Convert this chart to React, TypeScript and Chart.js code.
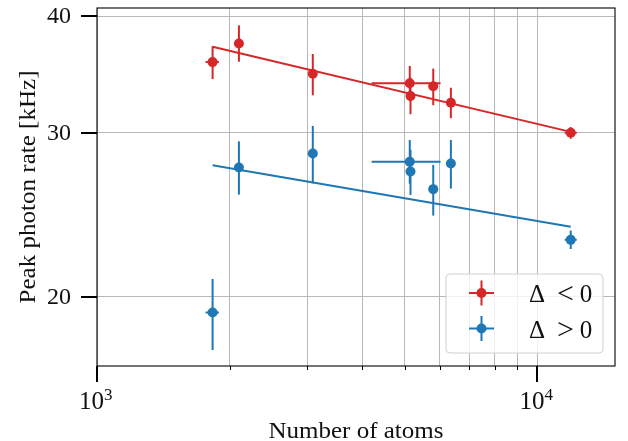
import React, { useEffect, useRef } from "react";
import { Chart, registerables } from "chart.js";
Chart.register(...registerables);

// ---- data ----
const nAtoms = [1830, 2100, 3090, 5130, 5150, 5800, 6360, 11900];
const nAtomsLow = [1764, 2100, 3090, 4203, 5150, 5800, 6360, 11533];
const nAtomsHigh = [1891, 2100, 3090, 6026, 5150, 5800, 6360, 12281];

const rateNeg = [35.7, 37.38, 34.68, 33.88, 32.84, 33.63, 32.29, 29.98];
const rateNegLow = [34.24, 35.73, 32.89, 32.45, 31.39, 32.1, 31.08, 29.54];
const rateNegHigh = [37.13, 39.09, 36.42, 35.35, 34.36, 35.13, 33.51, 30.42];

const ratePos = [19.24, 27.52, 28.49, 27.92, 27.25, 26.09, 27.8, 23.02];
const ratePosLow = [17.54, 25.74, 26.46, 26.44, 25.72, 24.44, 26.13, 22.5];
const ratePosHigh = [20.9, 29.36, 30.5, 29.46, 28.75, 27.7, 29.46, 23.55];

const fitN = [1830, 11900];
const fitNeg = [37.07, 30.05];
const fitPos = [27.68, 23.77];

const xMajorTicks = [1000, 10000];
const xMajorLabels = ["3", "4"];
const xMinorTicks = [2000, 3000, 4000, 5000, 6000, 7000, 8000, 9000];
const yTicks = [20, 30, 40];
const yTickLabels = ["20", "30", "40"];
const legendLabels = [["Δ", "<", "0"], ["Δ", ">", "0"]];

const xTitle = "Number of atoms";
const yTitle = "Peak photon rate [kHz]";

// ---- styles ----
const RED = "#d62728";
const BLUE = "#1f77b4";
const GRID = "#b8b8b8";
const INK = "#111111";
const FONT = '"Liberation Serif", "Times New Roman", serif';

function drawStretched(ctx: CanvasRenderingContext2D, text: string, cx: number, cy: number, targetW: number) {
  const w = ctx.measureText(text).width;
  const s = targetW / w;
  ctx.save();
  ctx.translate(cx, cy);
  ctx.scale(s, 1);
  ctx.textAlign = "center";
  ctx.fillText(text, 0, 0);
  ctx.restore();
}

const errorBarsPlugin = {
  id: "errorBars",
  beforeDatasetsDraw(chart: any) {
    const ctx = chart.ctx as CanvasRenderingContext2D;
    const xs = chart.scales.x;
    const ys = chart.scales.y;
    const series = [
      { v: rateNeg, lo: rateNegLow, hi: rateNegHigh, c: RED },
      { v: ratePos, lo: ratePosLow, hi: ratePosHigh, c: BLUE },
    ];
    ctx.save();
    ctx.lineWidth = 2;
    for (const s of series) {
      ctx.strokeStyle = s.c;
      for (let i = 0; i < nAtoms.length; i++) {
        const px = xs.getPixelForValue(nAtoms[i]);
        const py = ys.getPixelForValue(s.v[i]);
        ctx.beginPath();
        ctx.moveTo(px, ys.getPixelForValue(s.lo[i]));
        ctx.lineTo(px, ys.getPixelForValue(s.hi[i]));
        ctx.moveTo(xs.getPixelForValue(nAtomsLow[i]), py);
        ctx.lineTo(xs.getPixelForValue(nAtomsHigh[i]), py);
        ctx.stroke();
      }
    }
    ctx.restore();
  },
};

const decorPlugin = {
  id: "decor",
  afterDraw(chart: any) {
    const ctx = chart.ctx as CanvasRenderingContext2D;
    const a = chart.chartArea;
    const xs = chart.scales.x;
    const ys = chart.scales.y;
    ctx.save();
    // spines
    ctx.strokeStyle = "#000";
    ctx.lineWidth = 1.1;
    ctx.strokeRect(a.left, a.top, a.right - a.left, a.bottom - a.top);
    // x major ticks
    ctx.lineWidth = 2;
    for (const v of xMajorTicks) {
      const px = Math.round(xs.getPixelForValue(v));
      ctx.beginPath();
      ctx.moveTo(px, a.bottom);
      ctx.lineTo(px, a.bottom + 16);
      ctx.stroke();
    }
    ctx.lineWidth = 1;
    for (const v of xMinorTicks) {
      const px = Math.round(xs.getPixelForValue(v)) + 0.5;
      ctx.beginPath();
      ctx.moveTo(px, a.bottom);
      ctx.lineTo(px, a.bottom + 4);
      ctx.stroke();
    }
    ctx.lineWidth = 2;
    for (const v of yTicks) {
      const py = Math.round(ys.getPixelForValue(v));
      ctx.beginPath();
      ctx.moveTo(a.left - 16, py);
      ctx.lineTo(a.left, py);
      ctx.stroke();
    }
    // tick labels
    ctx.fillStyle = INK;
    ctx.textBaseline = "middle";
    ctx.textAlign = "right";
    ctx.font = `24px ${FONT}`;
    yTicks.forEach((v, i) => {
      const py = ys.getPixelForValue(v);
      ctx.fillText(yTickLabels[i], a.left - 26, py + 1);
    });
    xMajorTicks.forEach((v, i) => {
      const px = xs.getPixelForValue(v);
      ctx.font = `25px ${FONT}`;
      ctx.textAlign = "right";
      ctx.textBaseline = "alphabetic";
      ctx.fillText("10", px + 7, a.bottom + 43);
      ctx.font = `17px ${FONT}`;
      ctx.textAlign = "left";
      ctx.fillText(xMajorLabels[i], px + 7, a.bottom + 34);
    });
    // axis titles
    ctx.font = `24px ${FONT}`;
    ctx.textBaseline = "alphabetic";
    drawStretched(ctx, xTitle, (a.left + a.right) / 2, 438, 175);
    ctx.save();
    ctx.translate(35, (a.top + a.bottom) / 2 + 0);
    ctx.rotate(-Math.PI / 2);
    drawStretched(ctx, yTitle, 0, 0, 233);
    ctx.restore();

    // legend
    const lx = 446, ly = 274, lw = 157, lh = 79, r = 4;
    ctx.beginPath();
    ctx.moveTo(lx + r, ly);
    ctx.lineTo(lx + lw - r, ly);
    ctx.quadraticCurveTo(lx + lw, ly, lx + lw, ly + r);
    ctx.lineTo(lx + lw, ly + lh - r);
    ctx.quadraticCurveTo(lx + lw, ly + lh, lx + lw - r, ly + lh);
    ctx.lineTo(lx + r, ly + lh);
    ctx.quadraticCurveTo(lx, ly + lh, lx, ly + lh - r);
    ctx.lineTo(lx, ly + r);
    ctx.quadraticCurveTo(lx, ly, lx + r, ly);
    ctx.closePath();
    ctx.fillStyle = "rgba(255,255,255,0.8)";
    ctx.fill();
    ctx.strokeStyle = "#d0d0d0";
    ctx.lineWidth = 1;
    ctx.stroke();

    const colors = [RED, BLUE];
    const rows = [293, 328.5];
    rows.forEach((cy, i) => {
      const hx = 481.5;
      ctx.strokeStyle = colors[i];
      ctx.lineWidth = 2;
      ctx.beginPath();
      ctx.moveTo(469, cy);
      ctx.lineTo(494, cy);
      ctx.moveTo(hx, cy - 12.5);
      ctx.lineTo(hx, cy + 12.5);
      ctx.stroke();
      ctx.fillStyle = colors[i];
      ctx.beginPath();
      ctx.arc(hx, cy, 5, 0, Math.PI * 2);
      ctx.fill();
      ctx.fillStyle = INK;
      ctx.textAlign = "center";
      ctx.textBaseline = "alphabetic";
      const parts = legendLabels[i];
      ctx.font = `25px ${FONT}`;
      ctx.fillText(parts[0], 537, cy + 9);
      ctx.font = `30px ${FONT}`;
      ctx.fillText(parts[1], 565.5, cy + 10);
      ctx.font = `25px ${FONT}`;
      ctx.fillText(parts[2], 586, cy + 9);
    });
    ctx.restore();
  },
};

export default function App() {
  const ref = useRef<HTMLCanvasElement | null>(null);
  useEffect(() => {
    document.body.style.margin = "0";
    const canvas = ref.current!;
    const chart = new Chart(canvas, {
      type: "scatter",
      data: {
        datasets: [
          {
            label: "fit neg",
            data: fitN.map((x, i) => ({ x, y: fitNeg[i] })),
            showLine: true,
            borderColor: RED,
            borderWidth: 2,
            pointRadius: 0,
          },
          {
            label: "fit pos",
            data: fitN.map((x, i) => ({ x, y: fitPos[i] })),
            showLine: true,
            borderColor: BLUE,
            borderWidth: 2,
            pointRadius: 0,
          },
          {
            label: "Δ < 0",
            data: nAtoms.map((x, i) => ({ x, y: rateNeg[i] })),
            backgroundColor: RED,
            borderWidth: 0,
            pointRadius: 5,
          },
          {
            label: "Δ > 0",
            data: nAtoms.map((x, i) => ({ x, y: ratePos[i] })),
            backgroundColor: BLUE,
            borderWidth: 0,
            pointRadius: 5,
          },
        ],
      },
      options: {
        animation: false,
        responsive: false,
        maintainAspectRatio: false,
        devicePixelRatio: 1,
        layout: { padding: { left: 97, top: 8, right: 13, bottom: 75 } },
        plugins: { legend: { display: false }, tooltip: { enabled: false } },
        scales: {
          x: {
            type: "logarithmic",
            min: 1000,
            max: 15000,
            ticks: { display: false },
            grid: { color: GRID, lineWidth: 1, drawTicks: false },
            border: { display: false },
            afterBuildTicks: (s: any) => {
              s.ticks = [...xMajorTicks, ...xMinorTicks].sort((p, q) => p - q).map((v) => ({ value: v }));
            },
            afterFit: (s: any) => {
              s.height = 0;
            },
          },
          y: {
            type: "logarithmic",
            min: 16.86,
            max: 40.8,
            ticks: { display: false },
            grid: { color: GRID, lineWidth: 1, drawTicks: false },
            border: { display: false },
            afterBuildTicks: (s: any) => {
              s.ticks = yTicks.map((v) => ({ value: v }));
            },
            afterFit: (s: any) => {
              s.width = 0;
            },
          },
        },
      } as any,
      plugins: [errorBarsPlugin, decorPlugin],
    });
    return () => chart.destroy();
  }, []);
  return <canvas ref={ref} width={628} height={441} style={{ display: "block" }} />;
}
